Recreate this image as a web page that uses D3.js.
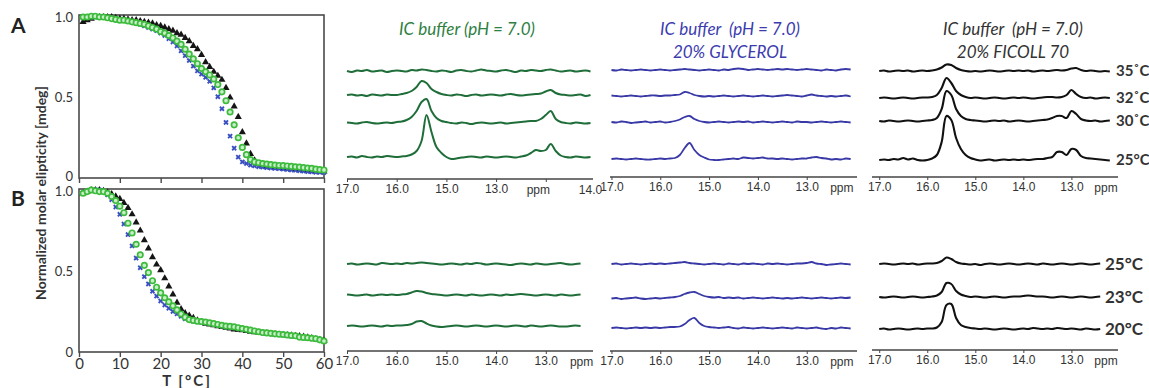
<!DOCTYPE html>
<html>
<head>
<meta charset="utf-8">
<script src="https://cdn.jsdelivr.net/npm/d3@7"></script>
<style>
  body { margin: 0; background: #fff; }
  text { font-family: Lato, "Open Sans", sans-serif; }
</style>
</head>
<body>
<svg id="fig" width="1149" height="388"></svg>
<script>
// ---- CD melting data (normalized molar ellipticity vs T) ----
var tempC = [1,2,3,4,5,6,7,8,9,10,11,12,13,14,15,16,17,18,19,20,21,22,23,24,25,26,27,28,29,30,
             31,32,33,34,35,36,37,38,39,40,41,42,43,44,45,46,47,48,49,50,51,52,53,54,55,56,57,58,59,60];

var blackA = [.97,.98,.99,1,1,1,1,1,.995,.99, .99,.985,.98,.98,.975,.97,.965,.96,.95,.945,
              .935,.925,.915,.90,.89,.87,.85,.82,.80,.765, .72,.69,.66,.635,.61,.56,.50,.445,.38,.285,
              .215,.15,.11,.085,.078,.074,.07,.067,.064,.062, .06,.058,.055,.052,.05,.047,.045,.043,.042,.04];
var greenA = [1,1,1.005,1.005,1,1,.995,.99,.985,.98, .98,.975,.97,.965,.96,.955,.945,.935,.925,.91,
              .90,.885,.87,.85,.83,.80,.77,.74,.71,.68, .66,.64,.615,.58,.535,.48,.41,.33,.25,.19,
              .145,.115,.10,.095,.09,.087,.083,.08,.078,.077, .075,.072,.07,.068,.065,.062,.06,.055,.052,.05];
var blueA  = [1,1,1,1,1,1,.995,.99,.99,.985, .98,.975,.97,.96,.955,.945,.935,.925,.915,.90,
              .885,.865,.845,.82,.79,.76,.73,.695,.665,.645, .625,.60,.56,.505,.43,.345,.26,.185,.13,.10,
              .09,.08,.075,.07,.068,.065,.062,.06,.058,.055, .053,.05,.048,.045,.043,.04,.038,.036,.035,.034];

var blackB = [.98,.99,1,1,1,.995,.985,.975,.96,.945, .92,.89,.85,.80,.75,.69,.64,.585,.54,.505,
              .455,.405,.355,.305,.265,.24,.225,.21,.195,.185, .175,.17,.165,.16,.155,.15,.145,.14,.138,.135,
              .13,.125,.122,.12,.117,.115,.112,.11,.108,.106, .104,.102,.10,.098,.095,.09,.085,.08,.075,.07];
var greenB = [.98,.99,1,.995,.99,.99,.98,.96,.935,.90, .86,.795,.735,.665,.60,.535,.49,.44,.40,.365,
              .335,.31,.285,.26,.235,.215,.20,.195,.19,.188, .185,.18,.175,.17,.165,.16,.158,.155,.15,.145,
              .14,.135,.13,.125,.12,.118,.115,.112,.11,.108, .105,.102,.10,.092,.09,.088,.085,.082,.075,.068];
var blueB  = [.98,.99,1,1,1,.99,.97,.94,.895,.85, .79,.725,.655,.58,.52,.465,.42,.375,.345,.315,
              .29,.27,.25,.235,.22,.205,.198,.19,.187,.183, .18,.175,.17,.165,.16,.156,.154,.151,.147,.142,
              .137,.132,.127,.122,.117,.115,.112,.109,.107,.105, .102,.099,.097,.089,.087,.085,.082,.079,.072,.066];

var cdTicksX = [0,10,20,30,40,50,60];
var cdTicksY = [0,0.5,1];

// ---- 1H NMR imino spectra (intensity, arbitrary units) on a shared ppm grid ----
var ppm = [17.0,16.9,16.8,16.7,16.6,16.5,16.4,16.3,16.2,16.1,16.0,15.9,15.8,15.7,15.6,15.5,15.4,15.3,15.2,15.1,
           15.0,14.9,14.8,14.7,14.6,14.5,14.4,14.3,14.2,14.1,14.0,13.9,13.8,13.7,13.6,13.5,13.4,13.3,13.2,13.1,
           13.0,12.9,12.8,12.7,12.6,12.5,12.4,12.3,12.2,12.1];

// IC buffer
var buf35 = [0,-1,.5,0,1,-.5,0,.5,-1,0, .5,0,-.5,1,.5,1.5,1,0,-.5,.5, 0,-1,.5,1,0,-.5,.5,1.5,.5,0,
             -.5,.5,1,0,-1,.5,0,1,.5,0, 1,1.5,.5,-.5,0,.5,-.5,0,.5,-.5];
var buf32 = [0,.5,-.5,0,-1,.5,0,-.5,.5,0, 0,1,2,4,8,14,12,6,3,1, 0,-.5,.5,0,-1,0,.5,-.5,0,.5,
             0,-.5,.5,1,0,-.5,0,.5,1,1.5, 3.5,5,2,.5,0,-.5,0,.5,-1,0];
var buf30 = [.5,0,-.5,.5,1,0,-.5,0,.5,0, 1,1.5,3,6,12,21,24,12,5,2, 1,0,-.5,.5,0,-1,0,.5,0,-.5,
             0,.5,-.5,0,.5,1,1.5,2,2,4, 8,12,4,1,0,-.5,.5,0,-.5,0];
var buf25 = [0,.5,-.5,1,0,-.5,.5,0,1,.5, 0,.5,1,2.5,6,16,42,25,10,4, 0,-2,-1.5,-.5,0,.5,0,-.5,.5,0,
             -.5,0,.5,0,-.5,.5,1.5,4,7,6, 7,13,6,1.5,0,-.5,.5,0,-.5,0];
var buf25b = [0,.5,-.5,0,.5,0,-.5,1,.5,0, .5,0,1,.5,1,1.5,1,.5,0,-.5, 0,.5,0,-.5,.5,0,1,.5,-.5,0,
              .5,0,-.5,-1,0,.5,0,-.5,.5,0, -.5,0,.5,1,0,-.5,0,.5];
var buf23b = [.5,0,-.5,0,.5,-.5,0,.5,0,.5, 0,.5,1,2.5,4,3.5,2,1,.5,0, -.5,0,.5,0,-.5,.5,0,-.5,0,.5,
              0,-.5,.5,0,.5,1,.5,0,-.5,0, .5,0,-.5,.5,0,-.5,0,.5];
var buf20b = [0,.5,0,-.5,0,.5,0,-.5,.5,0, .5,.5,1,2,4.5,5,2.5,.5,-.5,-1, -.5,0,.5,0,-.5,0,.5,0,-.5,0,
              .5,0,-.5,0,.5,0,-.5,.5,0,-.5, 0,.5,0,-.5,-.5,0,.5,0];

// IC buffer + 20% glycerol
var gly35 = [0,-.5,.5,0,-.5,0,.5,0,-.5,0, .5,0,-.5,0,.5,1,.5,0,-.5,0, .5,0,-.5,.5,0,1,1.5,1,0,.5,
             1,.5,0,.5,1,.5,1,.5,0,.5, 1,.5,0,-.5,.5,0,-.5,.5,1,.5];
var gly32 = [.5,0,-.5,0,.5,0,-.5,0,.5,.5, 0,.5,.5,1,1.5,4,3,1,0,-.5, 0,-.5,0,.5,0,-.5,0,.5,0,-.5,
             0,.5,0,-.5,0,.5,1,.5,0,-.5, .5,1.5,.5,0,-.5,0,-.5,0,.5,-.5];
var gly30 = [0,-.5,.5,0,-1,-.5,0,.5,-.5,0, .5,-.5,0,1,2.5,5,6,3,1,0, -.5,0,.5,0,-.5,0,.5,0,.5,-.5,
             0,.5,0,-.5,0,.5,0,-.5,.5,0, 0,-.5,0,.5,0,-.5,0,.5,0,-.5];
var gly25 = [0,.5,0,-.5,0,.5,0,-.5,-.5,0, .5,0,.5,1,4,11,16,9,4,1.5, -.5,-1,-1,-.5,0,.5,0,1.5,1,.5,
             1,1.5,.5,.5,0,.5,0,-.5,0,.5, .5,1.5,2,1,.5,-.5,0,-.5,.5,0];
var gly25b = [0,.5,-.5,0,.5,0,-.5,0,.5,0, .5,0,.5,1,1.5,2,1,.5,0,-.5, 0,.5,0,-.5,.5,0,-.5,.5,0,.5,
              0,-.5,.5,0,.5,0,-.5,0,.5,.5, 1,2,.5,0,-1,-.5,0,.5,0,-.5];
var gly23b = [-.5,0,-1,-.5,0,.5,-.5,-1,-.5,0, -.5,0,.5,1,2,4,5.5,6,4,2, 1,.5,1,0,.5,0,.5,-.5,0,.5,
              0,-.5,0,.5,0,-.5,0,-.5,0,.5, 0,-.5,0,.5,0,-.5,0,.5,0,.5];
var gly20b = [0,.5,0,-.5,0,.5,0,.5,0,.5, 0,.5,1,1,1.5,4,8,10,5,2, 1,.5,0,.5,1,0,-.5,.5,0,-.5,
              0,.5,0,-.5,0,.5,0,-.5,.5,0, -.5,0,.5,-.5,-1,0,-.5,.5,0,-.5];

// IC buffer + 20% Ficoll 70
var fic35 = [0,.5,-.5,0,.5,0,.5,-.5,0,.5, 0,.5,1.5,3.5,6.5,6,3,1,0,-.5, 0,-.5,0,.5,0,-.5,0,.5,0,.5,
             0,.5,-.5,0,.5,0,.5,1,.5,1, 2.5,3,1,0,.5,0,-.5,0,-.5];
var fic32 = [0,.5,0,-.5,0,.5,0,-.5,0,.5, .5,1,3,10,20,15,7,3,1,0, .5,0,-.5,0,.5,0,-.5,0,.5,0,
             .5,0,-.5,0,.5,1,1,.5,1,3, 8,4,1,0,.5,-.5,0,.5,0];
var fic30 = [0,-.5,.5,0,-.5,0,.5,0,-.5,0, .5,1,3,12,30,26,12,5,2,1, .5,0,-.5,0,.5,0,.5,-.5,0,.5,
             0,-.5,0,.5,1,1.5,3,5,5,3, 10,7,2,.5,0,.5,-.5,0,.5];
var fic25 = [0,.5,0,1,.5,2,.5,1.5,0,-.5, 0,1.5,5,18,44,40,22,11,5,2, .5,-.5,0,.5,-.5,0,.5,0,.5,0,
             .5,0,.5,1,1,2,3,8,8,5, 11,10,4,2,1.5,1,.5,0,-.5];
var fic25b = [0,.5,0,-.5,0,.5,0,.5,-.5,0, .5,.5,1,3,6.5,5,2,.5,0,-.5, 0,-1,0,.5,0,-.5,0,.5,0,-.5,
              0,.5,0,-.5,.5,0,-.5,0,.5,0, -.5,0,.5,0,-.5,0,.5];
var fic23b = [0,-.5,0,.5,0,-.5,0,.5,0,-.5, 0,.5,1.5,5,14,13,6,2.5,1,0, .5,0,-.5,0,.5,0,-.5,0,.5,.5,
              1,1.5,1,.5,.5,0,-.5,0,.5,0, -.5,0,.5,0,-.5,0,.5];
var fic20b = [0,.5,-.5,0,.5,0,-.5,0,.5,0, .5,.5,1.5,7,24,25,11,4,2,1, .5,0,.5,0,-.5,0,.5,0,-.5,0,
              .5,0,1,.5,0,.5,0,1,.5,0, .5,0,-.5,.5,0,-.5,0];

var topTemps = ["35\u02DAC","32\u02DAC","30\u02DAC","25\u00B0C"];
var bottomTemps = ["25\u00B0C","23\u00B0C","20\u00B0C"];
var ppmTicks = [17,16,15,14,13];
var ppmTickText = ["17.0","16.0","15.0","14.0","13.0"];
var ppmTickTextOdd = ["17.0","16.0","15.0","13.0",""];

var svg = d3.select("#fig");

// ================= CD panels =================
var x = d3.scaleLinear().domain([0, 60]).range([79, 324]);
var cdPanels = [
  { tag: "A", boxTop: 15, y: d3.scaleLinear().domain([0, 1]).range([178, 17]),
    series: [blackA, blueA, greenA], labels: false, tagY: 33, nudge: [-2, 0, 0] },
  { tag: "B", boxTop: 189, y: d3.scaleLinear().domain([0, 1]).range([352, 190]),
    series: [blackB, blueB, greenB], labels: true, tagY: 206, nudge: [0, 0, 1.5] }
];

cdPanels.forEach(function (p) {
  var g = svg.append("g");
  var y0 = p.y(0);
  g.append("rect")
    .attr("x", x(0)).attr("y", p.boxTop)
    .attr("width", x(60) - x(0)).attr("height", y0 - p.boxTop)
    .attr("fill", "none").attr("stroke", "#4a4a4a").attr("stroke-width", 1.6);

  var xa = g.append("g").attr("transform", "translate(0," + y0 + ")")
    .call(d3.axisBottom(x).tickValues(cdTicksX).tickSizeInner(5).tickSizeOuter(0).tickPadding(1)
      .tickFormat(p.labels ? d3.format("d") : function () { return ""; }));
  xa.select(".domain").remove();
  xa.selectAll("line").attr("stroke", "#4a4a4a").attr("stroke-width", 1.4);
  xa.selectAll("text").attr("font-size", 15).attr("fill", "#333")
    .style("font-family", "Lato, sans-serif");

  var ya = g.append("g").attr("transform", "translate(" + x(0) + ",0)")
    .call(d3.axisLeft(p.y).tickValues(cdTicksY).tickSize(0).tickPadding(6)
      .tickFormat(function (d) { return d === 0 ? "0" : d3.format(".1f")(d); }));
  ya.select(".domain").remove();
  ya.selectAll("text").attr("font-size", 13).attr("fill", "#333")
    .style("font-family", "Lato, sans-serif")
    .attr("y", function (d, i) { return p.nudge[i]; });

  // black triangles
  g.append("g").selectAll("path").data(p.series[0]).enter().append("path")
    .attr("d", d3.symbol(d3.symbolTriangle, 22))
    .attr("transform", function (d, i) { return "translate(" + x(tempC[i]) + "," + p.y(d) + ")"; })
    .attr("fill", "#151515");
  // blue crosses
  g.append("g").selectAll("path").data(p.series[1]).enter().append("path")
    .attr("d", d3.symbol(d3.symbolCross, 18))
    .attr("transform", function (d, i) { return "translate(" + x(tempC[i]) + "," + p.y(d) + ") rotate(45)"; })
    .attr("fill", "#3b50c0");
  // green open circles
  g.append("g").selectAll("circle").data(p.series[2]).enter().append("circle")
    .attr("cx", function (d, i) { return x(tempC[i]); })
    .attr("cy", function (d) { return p.y(d); })
    .attr("r", 2.7)
    .attr("fill", "#c9efc9").attr("stroke", "#3dbb3d").attr("stroke-width", 1.7);

  svg.append("text").attr("x", 11).attr("y", p.tagY).text(p.tag)
    .attr("font-size", 21).attr("font-weight", "bold").attr("fill", "#222");
});

svg.append("text")
  .attr("transform", "translate(46,193) rotate(-90)")
  .attr("text-anchor", "middle").attr("font-size", 14).attr("font-weight", "bold").attr("fill", "#333")
  .text("Normalized molar elipticity [mdeg]");
svg.append("text").attr("x", 187).attr("y", 386).attr("text-anchor", "middle")
  .attr("font-size", 15).attr("font-weight", "bold").attr("fill", "#333")
  .style("letter-spacing", "2px").text("T [\u00B0C]");

// ================= NMR panels =================
var nmrPanels = [
  { x0: 347, x1: 593, dom: [17.0, 12.05], color: "#1f6e3a", width: 2,
    title: ["IC buffer (pH = 7.0)"], titleColor: "#2e8043", cx: 467,
    top: [buf35, buf32, buf30, buf25], topBase: [71, 95, 123, 157], topAxis: 179,
    bot: [buf25b, buf23b, buf20b], botBase: [264, 295, 326], botAxis: 351 },
  { x0: 610, x1: 857, dom: [17.03, 11.97], color: "#3838a6", width: 1.8,
    title: ["IC buffer  (pH = 7.0)", "20% GLYCEROL"], titleColor: "#3c3caf", cx: 730,
    top: [gly35, gly32, gly30, gly25], topBase: [70, 96, 122, 159], topAxis: 177,
    bot: [gly25b, gly23b, gly20b], botBase: [264, 298, 328], botAxis: 351 },
  { x0: 872, x1: 1118, dom: [17.15, 12.03], color: "#111", width: 2.1,
    title: ["IC buffer  (pH = 7.0)", "20% FICOLL 70"], titleColor: "#333", cx: 1013,
    top: [fic35, fic32, fic30, fic25], topBase: [71, 98, 121, 160], topAxis: 177,
    bot: [fic25b, fic23b, fic20b], botBase: [264, 297, 329], botAxis: 350 }
];

nmrPanels.forEach(function (p, pi) {
  var sx = d3.scaleLinear().domain(p.dom).range([p.x0, p.x1]);
  var g = svg.append("g");

  p.title.forEach(function (t, i) {
    g.append("text").attr("x", p.cx).attr("y", 35 + i * 23).attr("text-anchor", "middle")
      .attr("font-size", 17).attr("font-style", "italic").attr("fill", p.titleColor)
      .style("white-space", "pre").text(t);
  });

  function drawRow(traces, bases) {
    traces.forEach(function (vals, i) {
      var sy = d3.scaleLinear().domain([0, 50]).range([bases[i], bases[i] - 50]);
      var line = d3.line()
        .x(function (d, j) { return sx(ppm[j]); })
        .y(function (d) { return sy(d); })
        .curve(d3.curveCatmullRom.alpha(0.5));
      g.append("path").datum(vals).attr("d", line)
        .attr("fill", "none").attr("stroke", p.color).attr("stroke-width", p.width)
        .attr("stroke-linejoin", "round");
    });
  }
  drawRow(p.top, p.topBase);
  drawRow(p.bot, p.botBase);

  function drawAxis(yPos, odd) {
    var text = odd ? ppmTickTextOdd : ppmTickText;
    var ax = g.append("g").attr("transform", "translate(0," + yPos + ")")
      .call(d3.axisBottom(sx).tickValues(ppmTicks).tickSizeInner(3).tickSizeOuter(0).tickPadding(2)
        .tickFormat(function (d, i) { return text[i]; }));
    ax.select(".domain").attr("stroke", "#444").attr("stroke-width", 1.3)
      .attr("d", "M" + p.x0 + ",0H" + p.x1);
    ax.selectAll("line").attr("stroke", "#444");
    ax.selectAll("text").attr("font-size", 12).attr("fill", "#333")
      .style("font-family", "'Liberation Sans', Arial, sans-serif");
    var extras = odd ? [[13.15, "ppm"], [12.1, "14.0"]] : [[12.28, "ppm"]];
    extras.forEach(function (e) {
      ax.append("text").attr("x", sx(e[0])).attr("y", 15).attr("text-anchor", "middle")
        .attr("font-size", 12).attr("fill", "#333")
        .style("font-family", "'Liberation Sans', Arial, sans-serif").text(e[1]);
    });
  }
  drawAxis(p.topAxis, pi === 0);
  drawAxis(p.botAxis, false);

  if (pi === 2) {
    topTemps.forEach(function (t, i) {
      g.append("text").attr("x", 1116).attr("y", p.topBase[i] + 5).text(t)
        .attr("font-size", 15).attr("font-weight", "bold").attr("fill", "#333");
    });
    bottomTemps.forEach(function (t, i) {
      g.append("text").attr("x", 1105).attr("y", p.botBase[i] + 6).text(t)
        .attr("font-size", 17).attr("font-weight", "bold").attr("fill", "#333");
    });
  }
});
</script>
</body>
</html>
